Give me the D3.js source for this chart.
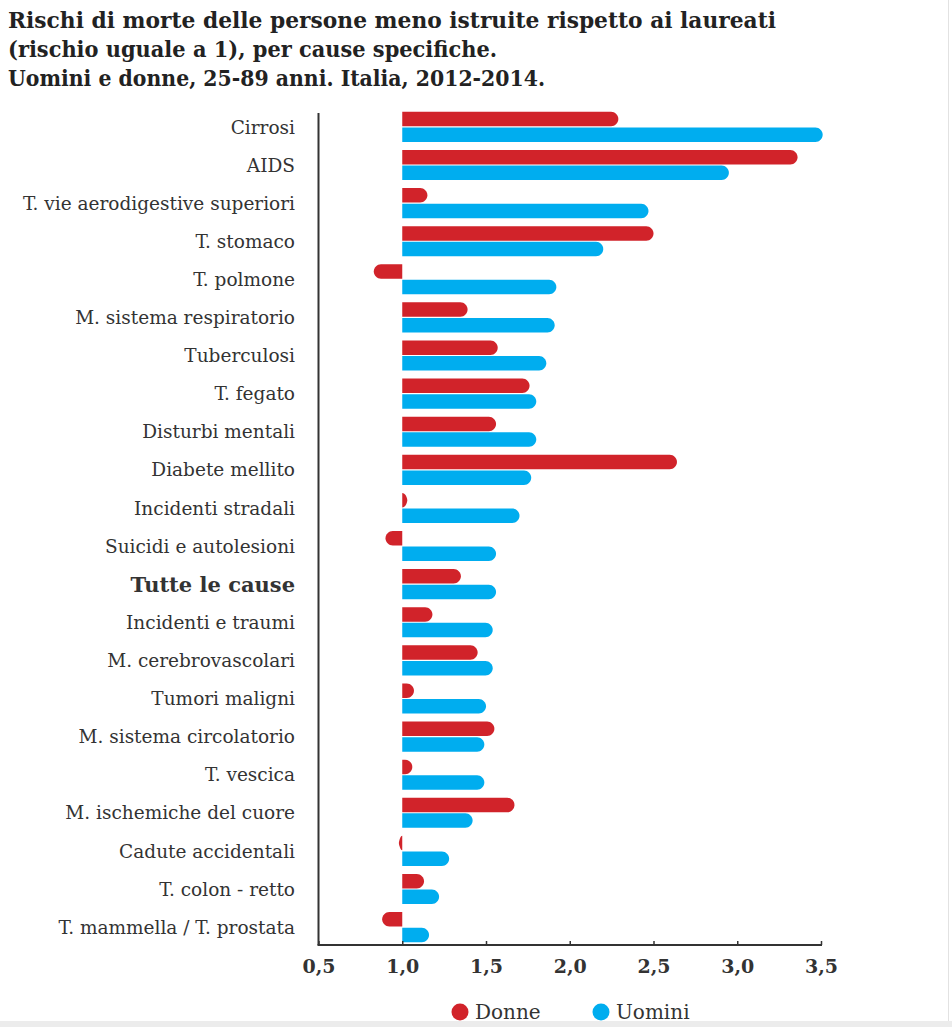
<!DOCTYPE html>
<html>
<head>
<meta charset="utf-8">
<script src="https://cdn.jsdelivr.net/npm/d3@7"></script>
<style>
  html, body { margin: 0; padding: 0; background: #fff; }
  svg { display: block; }
</style>
</head>
<body>
<script>
// Relative risk of death, less educated vs graduates (graduates = 1)
const causes = [
  "Cirrosi", "AIDS", "T. vie aerodigestive superiori", "T. stomaco", "T. polmone",
  "M. sistema respiratorio", "Tuberculosi", "T. fegato", "Disturbi mentali",
  "Diabete mellito", "Incidenti stradali", "Suicidi e autolesioni", "Tutte le cause",
  "Incidenti e traumi", "M. cerebrovascolari", "Tumori maligni",
  "M. sistema circolatorio", "T. vescica", "M. ischemiche del cuore",
  "Cadute accidentali", "T. colon - retto", "T. mammella / T. prostata"
];
const donne = [
  2.29, 3.36, 1.15, 2.50, 0.83,
  1.39, 1.57, 1.76, 1.56,
  2.64, 1.03, 0.90, 1.35,
  1.18, 1.45, 1.07,
  1.55, 1.06, 1.67,
  0.98, 1.13, 0.88
];
const uomini = [
  3.51, 2.95, 2.47, 2.20, 1.92,
  1.91, 1.86, 1.80, 1.80,
  1.77, 1.70, 1.56, 1.56,
  1.54, 1.54, 1.50,
  1.49, 1.49, 1.42,
  1.28, 1.22, 1.16
];
const tickValues = [0.5, 1.0, 1.5, 2.0, 2.5, 3.0, 3.5];
const seriesNames = ["Donne", "Uomini"];
const seriesColors = ["#d1232a", "#00adef"];
const titleLines = [
  "Rischi di morte delle persone meno istruite rispetto ai laureati",
  "(rischio uguale a 1), per cause specifiche.",
  "Uomini e donne, 25-89 anni. Italia, 2012-2014."
];
const titleWidths = [768, 489, 537];

const W = 952, H = 1027;
const serif = "'DejaVu Serif', serif";

const svg = d3.select("body").append("svg").attr("width", W).attr("height", H);

// page frame
svg.append("rect").attr("x", 0).attr("y", 1021).attr("width", W).attr("height", 6).attr("fill", "#ececec");
svg.append("line").attr("x1", 948.5).attr("x2", 948.5).attr("y1", 0).attr("y2", 1021)
  .attr("stroke", "#e2e2e2").attr("stroke-width", 1);

// title
svg.append("g").selectAll("text").data(titleLines).join("text")
  .attr("x", 8).attr("y", (d, i) => 28 + i * 29)
  .attr("font-family", serif).attr("font-weight", "bold").attr("font-size", 21.5)
  .attr("textLength", (d, i) => titleWidths[i])
  .attr("lengthAdjust", "spacingAndGlyphs")
  .attr("fill", "#222")
  .text(d => d);

const x = d3.scaleLinear().domain([0.5, 3.5]).range([318.5, 821]);
const y = d3.scaleBand().domain(causes).range([108, 946]).paddingInner(0.21).paddingOuter(0.1);
const sub = d3.scaleBand().domain(seriesNames).range([0, y.bandwidth()]).paddingInner(0.07);

// bar with flat base on 1.0 and rounded tip
function barPath(v, top, h) {
  const x0 = x(1), x1 = x(v);
  const len = Math.abs(x1 - x0);
  const dir = x1 >= x0 ? 1 : -1;
  const r = Math.min(h / 2, len);
  const k = 0.55;
  const p = d3.path();
  p.moveTo(x0, top);
  p.lineTo(x1 - dir * r, top);
  p.bezierCurveTo(x1 - dir * r * (1 - k), top, x1, top + h / 2 - r * k, x1, top + h / 2);
  p.bezierCurveTo(x1, top + h / 2 + r * k, x1 - dir * r * (1 - k), top + h, x1 - dir * r, top + h);
  p.lineTo(x0, top + h);
  p.closePath();
  return p.toString();
}

const rows = causes.map((c, i) => ({ cause: c, values: [donne[i], uomini[i]] }));

const gRows = svg.append("g").selectAll("g").data(rows).join("g")
  .attr("transform", d => `translate(0,${y(d.cause)})`);

gRows.selectAll("path").data(d => d.values.map((v, k) => ({ v, k })))
  .join("path")
  .attr("d", d => barPath(d.v, sub(seriesNames[d.k]), sub.bandwidth()))
  .attr("fill", d => seriesColors[d.k]);

// category labels
gRows.append("text")
  .attr("x", 295).attr("y", y.bandwidth() / 2)
  .attr("dy", "0.36em")
  .attr("text-anchor", "end")
  .attr("font-family", serif)
  .attr("font-size", d => d.cause === "Tutte le cause" ? 21 : 18.5)
  .attr("font-weight", d => d.cause === "Tutte le cause" ? "bold" : "normal")
  .attr("fill", "#333")
  .text(d => d.cause);

// axes
const axisY = 945;
svg.append("line").attr("x1", 318.5).attr("x2", 318.5).attr("y1", 113).attr("y2", axisY)
  .attr("stroke", "#333").attr("stroke-width", 2);

const xAxis = d3.axisBottom(x).tickValues(tickValues).tickSize(-4).tickPadding(11)
  .tickFormat(d => d3.format(".1f")(d).replace(".", ","));
const gx = svg.append("g").attr("transform", `translate(0,${axisY})`).call(xAxis);
gx.select(".domain").attr("d", `M${x(0.5) - 1},0H${x(3.5) + 1}`).attr("stroke", "#333").attr("stroke-width", 2);
gx.selectAll(".tick line").attr("stroke", "#333").attr("stroke-width", 1.5);
gx.selectAll(".tick text").attr("font-family", serif).attr("font-weight", "bold")
  .attr("font-size", 19).attr("fill", "#333").attr("dy", "0.9em");

// legend
const legend = svg.append("g").selectAll("g").data(seriesNames).join("g")
  .attr("transform", (d, i) => `translate(${[460, 601][i]},1012)`);
legend.append("circle").attr("r", 8.5).attr("fill", (d, i) => seriesColors[i]);
legend.append("text").attr("x", 15).attr("dy", "0.36em")
  .attr("font-family", serif).attr("font-size", 20).attr("fill", "#333")
  .text(d => d);
</script>
</body>
</html>
